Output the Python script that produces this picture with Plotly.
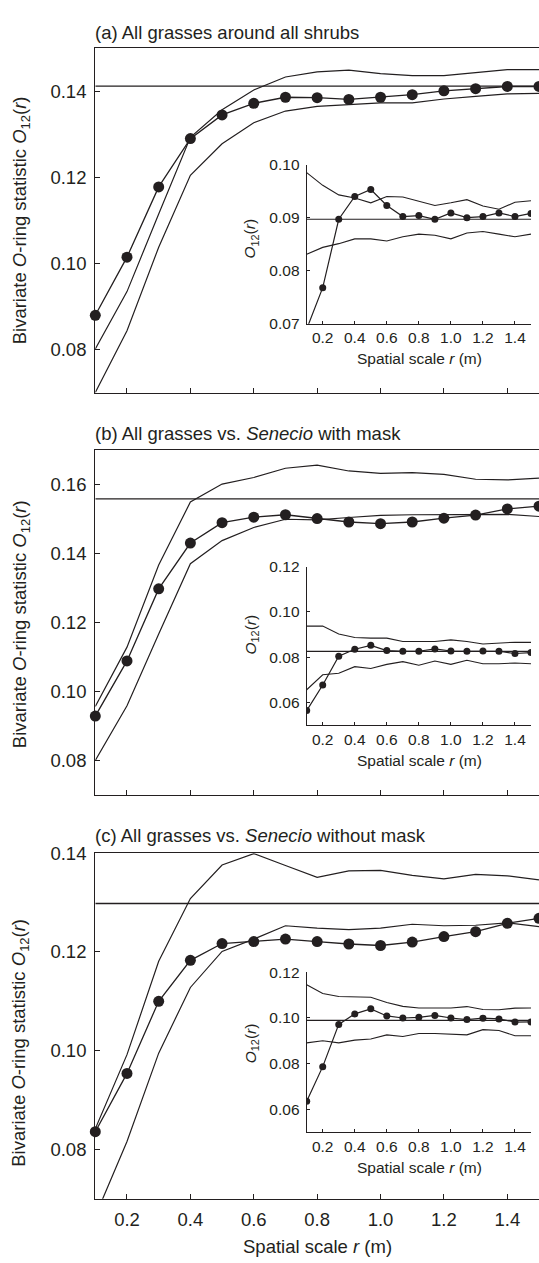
import plotly.graph_objects as go

# ---------------- data ----------------
r = [0.1, 0.2, 0.3, 0.4, 0.5, 0.6, 0.7, 0.8, 0.9, 1.0, 1.1, 1.2, 1.3, 1.4, 1.5]

# (a) All grasses around all shrubs
obs_a = [0.0880, 0.1015, 0.1178, 0.1290, 0.1345, 0.1372, 0.1386, 0.1385, 0.1381, 0.1386, 0.1392, 0.1401, 0.1406, 0.1411, 0.1411]
hi_a = [0.0802, 0.0935, 0.1115, 0.1293, 0.1357, 0.1403, 0.1433, 0.1445, 0.1449, 0.1441, 0.1436, 0.1436, 0.1443, 0.1450, 0.1450]
lo_a = [0.0701, 0.0844, 0.1038, 0.1205, 0.1278, 0.1327, 0.1354, 0.1365, 0.1369, 0.1373, 0.1373, 0.1382, 0.1388, 0.1394, 0.1395]
exp_a = 0.1412
obs_ai = [0.0690, 0.0768, 0.0897, 0.0940, 0.0953, 0.0923, 0.0902, 0.0904, 0.0897, 0.0909, 0.0900, 0.0902, 0.0909, 0.0902, 0.0908]
hi_ai = [0.0985, 0.0961, 0.0943, 0.0937, 0.0928, 0.0940, 0.0939, 0.0931, 0.0923, 0.0928, 0.0934, 0.0922, 0.0916, 0.0929, 0.0932]
lo_ai = [0.0831, 0.0844, 0.0851, 0.0860, 0.0860, 0.0856, 0.0864, 0.0869, 0.0867, 0.0860, 0.0871, 0.0874, 0.0869, 0.0864, 0.0869]
exp_ai = 0.0897

# (b) All grasses vs. Senecio with mask
obs_b = [0.0929, 0.1089, 0.1298, 0.1431, 0.1490, 0.1506, 0.1513, 0.1502, 0.1492, 0.1487, 0.1492, 0.1503, 0.1512, 0.1530, 0.1538]
hi_b = [0.0957, 0.1129, 0.1367, 0.1550, 0.1602, 0.1621, 0.1648, 0.1657, 0.1640, 0.1633, 0.1635, 0.1630, 0.1616, 0.1614, 0.1619]
lo_b = [0.0800, 0.0959, 0.1167, 0.1371, 0.1438, 0.1476, 0.1500, 0.1498, 0.1505, 0.1511, 0.1513, 0.1514, 0.1514, 0.1514, 0.1508]
exp_b = 0.1559
obs_bi = [0.0564, 0.0677, 0.0804, 0.0835, 0.0852, 0.0829, 0.0826, 0.0826, 0.0836, 0.0827, 0.0826, 0.0827, 0.0826, 0.0816, 0.0820]
hi_bi = [0.0937, 0.0937, 0.0902, 0.0887, 0.0884, 0.0884, 0.0869, 0.0869, 0.0869, 0.0876, 0.0869, 0.0858, 0.0862, 0.0866, 0.0865]
lo_bi = [0.0656, 0.0722, 0.0729, 0.0758, 0.0750, 0.0768, 0.0780, 0.0764, 0.0783, 0.0768, 0.0786, 0.0771, 0.0771, 0.0774, 0.0771]
exp_bi = 0.0825

# (c) All grasses vs. Senecio without mask
obs_c = [0.0836, 0.0954, 0.1100, 0.1183, 0.1217, 0.1221, 0.1226, 0.1221, 0.1216, 0.1213, 0.1220, 0.1231, 0.1241, 0.1258, 0.1268]
hi_c = [0.0842, 0.0992, 0.1181, 0.1308, 0.1376, 0.1399, 0.1375, 0.1351, 0.1364, 0.1365, 0.1355, 0.1348, 0.1357, 0.1354, 0.1346]
lo_c = [0.0665, 0.0816, 0.0995, 0.1128, 0.1201, 0.1226, 0.1253, 0.1248, 0.1245, 0.1248, 0.1256, 0.1253, 0.1254, 0.1259, 0.1251]
exp_c = 0.1298
obs_ci = [0.0635, 0.0787, 0.0972, 0.1018, 0.1040, 0.1009, 0.1000, 0.1003, 0.1011, 0.1000, 0.0993, 0.0999, 0.0996, 0.0982, 0.0983]
hi_ci = [0.1146, 0.1107, 0.1094, 0.1094, 0.1091, 0.1068, 0.1051, 0.1044, 0.1044, 0.1044, 0.1050, 0.1037, 0.1036, 0.1043, 0.1044]
lo_ci = [0.0891, 0.0900, 0.0891, 0.0903, 0.0908, 0.0926, 0.0919, 0.0932, 0.0932, 0.0929, 0.0926, 0.0949, 0.0945, 0.0922, 0.0922]
exp_ci = 0.0990

titles = ["(a) All grasses around all shrubs",
          "(b) All grasses vs. <i>Senecio</i> with mask",
          "(c) All grasses vs. <i>Senecio</i> without mask"]
main_yticks = [[0.08, 0.10, 0.12, 0.14],
               [0.08, 0.10, 0.12, 0.14, 0.16],
               [0.08, 0.10, 0.12, 0.14]]
main_yranges = [[0.07, 0.15], [0.07, 0.17], [0.07, 0.14]]
inset_yticks = [[0.07, 0.08, 0.09, 0.10],
                [0.06, 0.08, 0.10, 0.12],
                [0.06, 0.08, 0.10, 0.12]]
inset_yranges = [[0.07, 0.10], [0.05, 0.12], [0.05, 0.12]]
xticks = [0.2, 0.4, 0.6, 0.8, 1.0, 1.2, 1.4]
xtick_text = ["0.2", "0.4", "0.6", "0.8", "1.0", "1.2", "1.4"]

main_ytitle = "Bivariate <i>O</i>-ring statistic <i>O</i><sub>12</sub>(<i>r</i>)"
inset_ytitle = "<i>O</i><sub>12</sub>(<i>r</i>)"
xtitle = "Spatial scale <i>r</i> (m)"

# ---------------- layout geometry (pixels) ----------------
W, H = 539, 1263
INK = "#231f20"
FONT = "Liberation Sans, Arial, Helvetica, sans-serif"

def px_x(p):
    return p / W

def px_y(p):
    return 1 - p / H

main_x_dom = [px_x(95.3), 1.0]
inset_x_dom = [px_x(306.7), px_x(531)]
main_y_px = [(37.7, 387.7), (446, 796), (855, 1206)]
inset_y_px = [(156, 317.5), (564, 725), (976, 1138.3)]
title_y_px = [22, 428.5, 837]
main_ytitle_y_px = [213, 623, 1048]
inset_ytitle_y_px = [231, 633, 1048]
inset_xtitle_y_px = [352.5, 760.5, 1174]

panels = [
    (obs_a, hi_a, lo_a, exp_a, obs_ai, hi_ai, lo_ai, exp_ai),
    (obs_b, hi_b, lo_b, exp_b, obs_bi, hi_bi, lo_bi, exp_bi),
    (obs_c, hi_c, lo_c, exp_c, obs_ci, hi_ci, lo_ci, exp_ci),
]

fig = go.Figure()
layout = dict(
    width=W, height=H,
    margin=dict(l=0, r=0, t=0, b=0),
    paper_bgcolor="white", plot_bgcolor="rgba(0,0,0,0)",
    showlegend=False,
    font=dict(family=FONT, color=INK, size=18.5),
)
annotations = []

for i, (obs, hi, lo, ex, obs_i, hi_i, lo_i, ex_i) in enumerate(panels):
    m = 2 * i + 1      # main axis index
    n = 2 * i + 2      # inset axis index
    xm = "x" if m == 1 else f"x{m}"
    ym = "y" if m == 1 else f"y{m}"
    xn, yn = f"x{n}", f"y{n}"

    # main panel traces
    fig.add_trace(go.Scatter(x=[r[0], r[-1]], y=[ex, ex], mode="lines",
                             line=dict(color=INK, width=1.3), xaxis=xm, yaxis=ym))
    fig.add_trace(go.Scatter(x=r, y=hi, mode="lines",
                             line=dict(color=INK, width=1.2), xaxis=xm, yaxis=ym))
    fig.add_trace(go.Scatter(x=r, y=lo, mode="lines",
                             line=dict(color=INK, width=1.2), xaxis=xm, yaxis=ym))
    fig.add_trace(go.Scatter(x=r, y=obs, mode="lines+markers",
                             line=dict(color=INK, width=1.3),
                             marker=dict(color=INK, size=11),
                             cliponaxis=False, xaxis=xm, yaxis=ym))
    # inset traces
    fig.add_trace(go.Scatter(x=[r[0], r[-1]], y=[ex_i, ex_i], mode="lines",
                             line=dict(color=INK, width=1.2), xaxis=xn, yaxis=yn))
    fig.add_trace(go.Scatter(x=r, y=hi_i, mode="lines",
                             line=dict(color=INK, width=1.1), xaxis=xn, yaxis=yn))
    fig.add_trace(go.Scatter(x=r, y=lo_i, mode="lines",
                             line=dict(color=INK, width=1.1), xaxis=xn, yaxis=yn))
    fig.add_trace(go.Scatter(x=r, y=obs_i, mode="lines+markers",
                             line=dict(color=INK, width=1.2),
                             marker=dict(color=INK, size=7),
                             cliponaxis=True, xaxis=xn, yaxis=yn))

    top, bot = main_y_px[i]
    itop, ibot = inset_y_px[i]
    xkey_m = "xaxis" if m == 1 else f"xaxis{m}"
    ykey_m = "yaxis" if m == 1 else f"yaxis{m}"

    layout[xkey_m] = dict(
        domain=main_x_dom, anchor=ym, range=[0.1, 1.5],
        showline=True, linecolor=INK, linewidth=1.3, mirror=True,
        ticks="inside", ticklen=5, tickwidth=1.2, tickcolor=INK,
        tickvals=xticks, ticktext=xtick_text,
        showticklabels=(i == 2), ticklabelstandoff=4,
        tickfont=dict(size=18.5, color=INK, family=FONT),
        showgrid=False, zeroline=False,
    )
    layout[ykey_m] = dict(
        domain=[px_y(bot), px_y(top)], anchor=xm, range=main_yranges[i],
        showline=True, linecolor=INK, linewidth=1.3, mirror=False,
        ticks="inside", ticklen=5, tickwidth=1.2, tickcolor=INK,
        tickvals=main_yticks[i], tickformat=".2f", ticklabelstandoff=4,
        tickfont=dict(size=18.5, color=INK, family=FONT),
        showgrid=False, zeroline=False,
    )
    layout[f"xaxis{n}"] = dict(
        domain=inset_x_dom, anchor=yn, range=[0.1, 1.5],
        showline=True, linecolor=INK, linewidth=1.2, mirror=False,
        ticks="inside", ticklen=3, tickwidth=1.1, tickcolor=INK,
        tickvals=xticks, ticktext=xtick_text, ticklabelstandoff=0,
        tickfont=dict(size=15.5, color=INK, family=FONT),
        showgrid=False, zeroline=False,
    )
    layout[f"yaxis{n}"] = dict(
        domain=[px_y(ibot), px_y(itop)], anchor=xn, range=inset_yranges[i],
        showline=True, linecolor=INK, linewidth=1.2, mirror=False,
        ticks="inside", ticklen=3, tickwidth=1.1, tickcolor=INK,
        tickvals=inset_yticks[i], tickformat=".2f", ticklabelstandoff=3,
        tickfont=dict(size=15.5, color=INK, family=FONT),
        showgrid=False, zeroline=False,
    )

    # panel title
    annotations.append(dict(text=titles[i], xref="paper", yref="paper",
                            x=px_x(93), y=px_y(title_y_px[i]),
                            xanchor="left", yanchor="middle", showarrow=False,
                            font=dict(size=18.5, color=INK, family=FONT)))
    # main y title
    annotations.append(dict(text=main_ytitle, xref="paper", yref="paper",
                            x=px_x(20.5), y=px_y(main_ytitle_y_px[i]),
                            xanchor="center", yanchor="middle", textangle=-90,
                            showarrow=False,
                            font=dict(size=18.5, color=INK, family=FONT)))
    # inset y title
    annotations.append(dict(text=inset_ytitle, xref="paper", yref="paper",
                            x=px_x(251), y=px_y(inset_ytitle_y_px[i]),
                            xanchor="center", yanchor="middle", textangle=-90,
                            showarrow=False,
                            font=dict(size=15.5, color=INK, family=FONT)))
    # inset x title
    annotations.append(dict(text=xtitle, xref="paper", yref="paper",
                            x=px_x(419), y=px_y(inset_xtitle_y_px[i]),
                            xanchor="center", yanchor="middle", showarrow=False,
                            font=dict(size=15.5, color=INK, family=FONT)))

# main x title (bottom)
annotations.append(dict(text=xtitle, xref="paper", yref="paper",
                        x=px_x(317.5), y=px_y(1254), xanchor="center", yanchor="middle",
                        showarrow=False, font=dict(size=18.5, color=INK, family=FONT)))

layout["annotations"] = annotations
fig.update_layout(**layout)
fig.write_html("out.html")
